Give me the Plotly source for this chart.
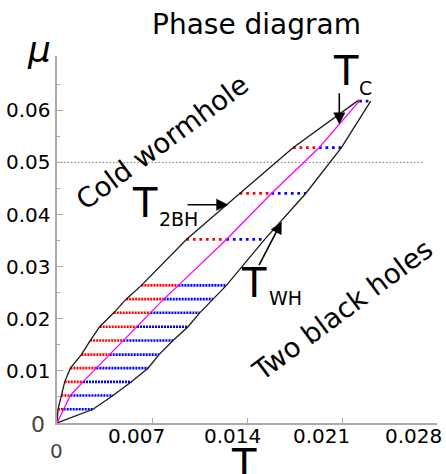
import plotly.graph_objects as go

# ---------------- data ----------------
mu_rows = [0, 0.00264, 0.00528, 0.00790, 0.01052, 0.01312, 0.01582, 0.01848,
           0.02114, 0.02376, 0.02640, 0.03522, 0.04404, 0.05282, 0.06176]
T_2bh = [0, 0.000074, 0.000324, 0.000567, 0.000987, 0.001798, 0.002446, 0.003146,
         0.004178, 0.005099, 0.006219, 0.009535, 0.013463, 0.017390, 0.022121]
T_c = [0, 0.000494, 0.000987, 0.001916, 0.002903, 0.003883, 0.004893, 0.005895,
       0.006882, 0.007862, 0.008946, 0.012482, 0.015798, 0.019306, 0.022268]
T_wh = [0, 0.002653, 0.004126, 0.005482, 0.006706, 0.007516, 0.008548, 0.009653,
        0.010515, 0.011495, 0.012482, 0.015304, 0.018326, 0.020956, 0.023115]
ref_mu = 0.05
ref_T = [0, 0.02695]

x_ticks = [0.007, 0.014, 0.021, 0.028]
x_tick_labels = ["0.007", "0.014", "0.021", "0.028"]
y_ticks = [0.01, 0.02, 0.03, 0.04, 0.05, 0.06]
y_tick_labels = ["0.01", "0.02", "0.03", "0.04", "0.05", "0.06"]
y_minor = [0.005, 0.015, 0.025, 0.035, 0.045, 0.055, 0.065]

# ---------------- layout geometry / style ----------------
W, H = 446, 474
ML, MR, MT, MB = 57, 9, 56, 51
PW, PH = W - ML - MR, H - MT - MB
FONT = "DejaVu Sans"
x_label_shift = [-15.5, -14.5, -20.5, -23.7]


def pxx(x):
    return (x - ML) / PW


def pxy(y):
    return (MT + PH - y) / PH


fig = go.Figure()

# dotted tie lines
n_dense = 10
for i in range(1, len(mu_rows)):
    dense = i <= n_dense
    dash = "2px,1px" if dense else "2.7px,3.8px"
    w = 2.6 if dense else 2.7
    fig.add_trace(go.Scatter(x=[T_2bh[i], T_c[i]], y=[mu_rows[i], mu_rows[i]],
                             mode="lines", line=dict(color="#ff0000", width=w, dash=dash),
                             showlegend=False, hoverinfo="skip"))
    fig.add_trace(go.Scatter(x=[T_c[i], T_wh[i]], y=[mu_rows[i], mu_rows[i]],
                             mode="lines", line=dict(color="#0000ff", width=w, dash=dash),
                             showlegend=False, hoverinfo="skip"))

# reference line mu = 0.05
fig.add_trace(go.Scatter(x=ref_T, y=[ref_mu, ref_mu], mode="lines",
                         line=dict(color="#777777", width=1, dash="1.5px,2px"),
                         showlegend=False, hoverinfo="skip"))

# boundaries
fig.add_trace(go.Scatter(x=T_2bh, y=mu_rows, mode="lines",
                         line=dict(color="#1a1a1a", width=1.3), showlegend=False))
fig.add_trace(go.Scatter(x=T_wh, y=mu_rows, mode="lines",
                         line=dict(color="#1a1a1a", width=1.3), showlegend=False))
fig.add_trace(go.Scatter(x=T_c, y=mu_rows, mode="lines",
                         line=dict(color="#ff00ff", width=1.3), showlegend=False))

ann = []


def txt(text, x, y, size, color="black", angle=0, xanchor="center"):
    ann.append(dict(text=text, x=pxx(x), y=pxy(y), xref="paper", yref="paper",
                    showarrow=False, xanchor=xanchor, yanchor="middle",
                    textangle=angle, font=dict(family=FONT, size=size, color=color)))


# tick labels
for v, lab, s in zip(x_ticks, x_tick_labels, x_label_shift):
    ann.append(dict(text=lab, x=v, y=pxy(436.1), xref="x", yref="paper", xshift=s,
                    showarrow=False, xanchor="center", yanchor="middle",
                    font=dict(family=FONT, size=20, color="black")))
for v, lab in zip(y_ticks, y_tick_labels):
    ann.append(dict(text=lab, x=0, y=v, xref="paper", yref="y", xshift=-4,
                    showarrow=False, xanchor="right", yanchor="middle",
                    font=dict(family=FONT, size=20, color="black")))
txt("0", 47, 424, 22, color="#444444", xanchor="right")
txt("0", 56.7, 451.1, 20, color="#444444")

# titles and labels
txt("Phase diagram", 256.5, 24.6, 28)
txt("<i>μ</i>", 39, 50, 36)
txt("T", 244, 463.7, 40)
txt("Cold wormhole", 161.7, 141.7, 27.5, angle=-36.5)
txt("Two black holes", 341.7, 310, 27.5, angle=-36.5)
txt("T", 346, 71.2, 40)
txt("C", 365, 88.4, 19)
txt("T", 145, 203.2, 40)
txt("2BH", 178.5, 219.4, 19)
txt("T", 254, 282.9, 40)
txt("WH", 285, 298.4, 19)


def arrow(hx, hy, tx, ty):
    ann.append(dict(text="", x=pxx(hx), y=pxy(hy), xref="paper", yref="paper",
                    ax=tx - hx, ay=ty - hy, axref="pixel", ayref="pixel",
                    showarrow=True, arrowhead=2, arrowsize=1.5, arrowwidth=1.6,
                    arrowcolor="black", standoff=0))


arrow(339.3, 124.5, 339.3, 91.7)
arrow(228.3, 204.8, 186, 204.8)
arrow(281.7, 221.7, 258.3, 266.7)

fig.update_layout(
    width=W, height=H,
    margin=dict(l=ML, r=MR, t=MT, b=MB, pad=0),
    paper_bgcolor="white", plot_bgcolor="white",
    annotations=ann,
    xaxis=dict(range=[0, 0.028], showgrid=False, zeroline=False,
               showline=True, linecolor="#aaaaaa", linewidth=1.5,
               ticks="inside", ticklen=5, tickwidth=1.2, tickcolor="#aaaaaa",
               tickvals=x_ticks, showticklabels=False, fixedrange=True),
    yaxis=dict(range=[0, PH / 5212.0], showgrid=False, zeroline=False,
               showline=True, linecolor="#aaaaaa", linewidth=1.5,
               ticks="inside", ticklen=6, tickwidth=1.2, tickcolor="#aaaaaa",
               tickvals=y_ticks, showticklabels=False, fixedrange=True,
               minor=dict(tickvals=y_minor, ticks="inside", ticklen=3,
                          tickcolor="#aaaaaa", tickwidth=1)),
)

fig.write_html("out.html")
